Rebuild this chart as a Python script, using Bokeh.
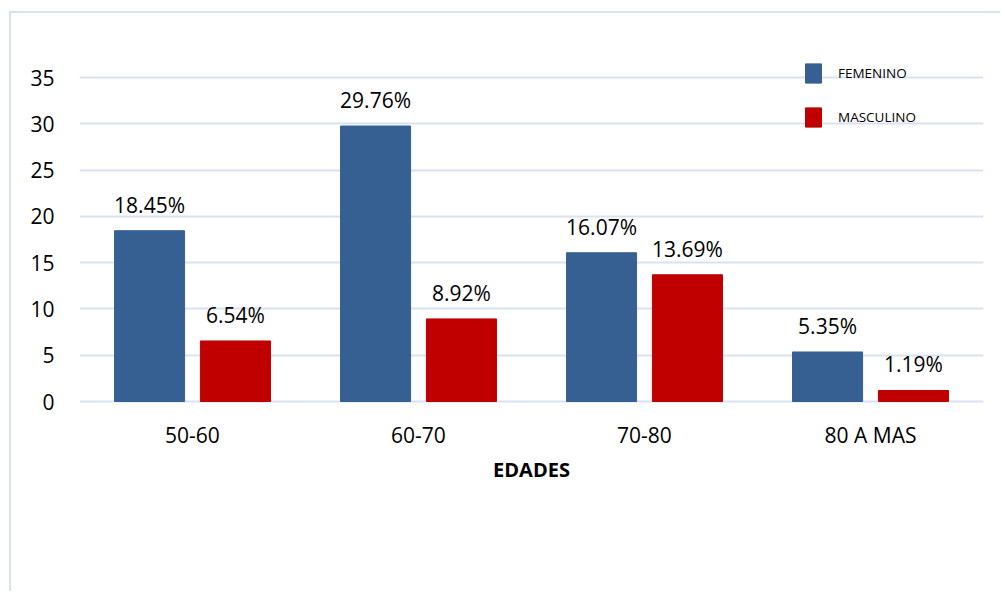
from bokeh.plotting import figure
from bokeh.models import (ColumnDataSource, FactorRange, Range1d, FixedTicker,
                          Legend, LegendItem)
from bokeh.transform import dodge
from bokeh.core.properties import value
from bokeh.embed import file_html
from bokeh.resources import INLINE

# ---- data ----
categories = ["50-60", "60-70", "70-80", "80 A MAS"]
femenino = [18.45, 29.76, 16.07, 5.35]
masculino = [6.54, 8.92, 13.69, 1.19]
y_ticks = [0, 5, 10, 15, 20, 25, 30, 35]
series_names = ["FEMENINO", "MASCULINO"]
x_title = "EDADES"

BLUE = "#376092"
RED = "#C00000"
GRID = "#D9E2F3"
FONT = "Open Sans"

src = ColumnDataSource(dict(
    cat=categories,
    fem=femenino,
    mas=masculino,
    fem_lbl=[f"{v:.2f}%" for v in femenino],
    mas_lbl=[f"{v:.2f}%" for v in masculino],
))

p = figure(x_range=FactorRange(*categories), y_range=Range1d(-0.216, 41.915),
           width=991, height=580, output_backend="svg", toolbar_location=None,
           min_border_left=68, min_border_right=19, min_border_top=0,
           min_border_bottom=190)
p.outline_line_color = None
p.background_fill_color = "white"
p.border_fill_color = "white"
p.styles = {"margin-left": "9px", "margin-top": "11px",
            "border-left": f"2px solid {GRID}", "border-top": f"2px solid {GRID}"}

off = 0.19
w = 0.31
r_fem = p.vbar(x=dodge("cat", -off, range=p.x_range), top="fem", width=w,
               source=src, fill_color=BLUE, line_color=BLUE)
r_mas = p.vbar(x=dodge("cat", off, range=p.x_range), top="mas", width=w,
               source=src, fill_color=RED, line_color=RED)

for col, lbl, d in (("fem", "fem_lbl", -off), ("mas", "mas_lbl", off)):
    p.text(x=dodge("cat", d, range=p.x_range), y=col, text=lbl, source=src,
           text_align="center", text_baseline="alphabetic", y_offset=-26,
           text_font=value(FONT), text_font_size="21px", text_color="black")

# axes
p.yaxis.ticker = FixedTicker(ticks=y_ticks)
p.ygrid.ticker = FixedTicker(ticks=y_ticks)
p.ygrid.grid_line_color = GRID
p.ygrid.grid_line_width = 2
p.xgrid.grid_line_color = None

for ax in (p.xaxis, p.yaxis):
    ax.axis_line_color = None
    ax.major_tick_line_color = None
    ax.minor_tick_line_color = None
    ax.major_label_text_font = FONT
    ax.major_label_text_font_size = "21px"
    ax.major_label_text_color = "black"
p.yaxis.major_label_standoff = 19
p.xaxis.major_label_standoff = 11
p.xaxis.axis_label = x_title
p.xaxis.axis_label_text_font = FONT
p.xaxis.axis_label_text_font_size = "20px"
p.xaxis.axis_label_text_font_style = "bold"
p.xaxis.axis_label_text_color = "black"
p.xaxis.axis_label_standoff = 4

# legend
legend = Legend(items=[LegendItem(label=series_names[0], renderers=[r_fem]),
                       LegendItem(label=series_names[1], renderers=[r_mas])],
                location=(724, 266), orientation="vertical",
                glyph_width=20, glyph_height=24, spacing=4, label_height=40,
                label_standoff=15, padding=0, margin=0,
                border_line_color=None, background_fill_alpha=0,
                label_text_font=FONT, label_text_font_size="13.5px",
                label_text_color="black")
p.add_layout(legend, "center")

open("out.html", "w").write(file_html(p, INLINE))
